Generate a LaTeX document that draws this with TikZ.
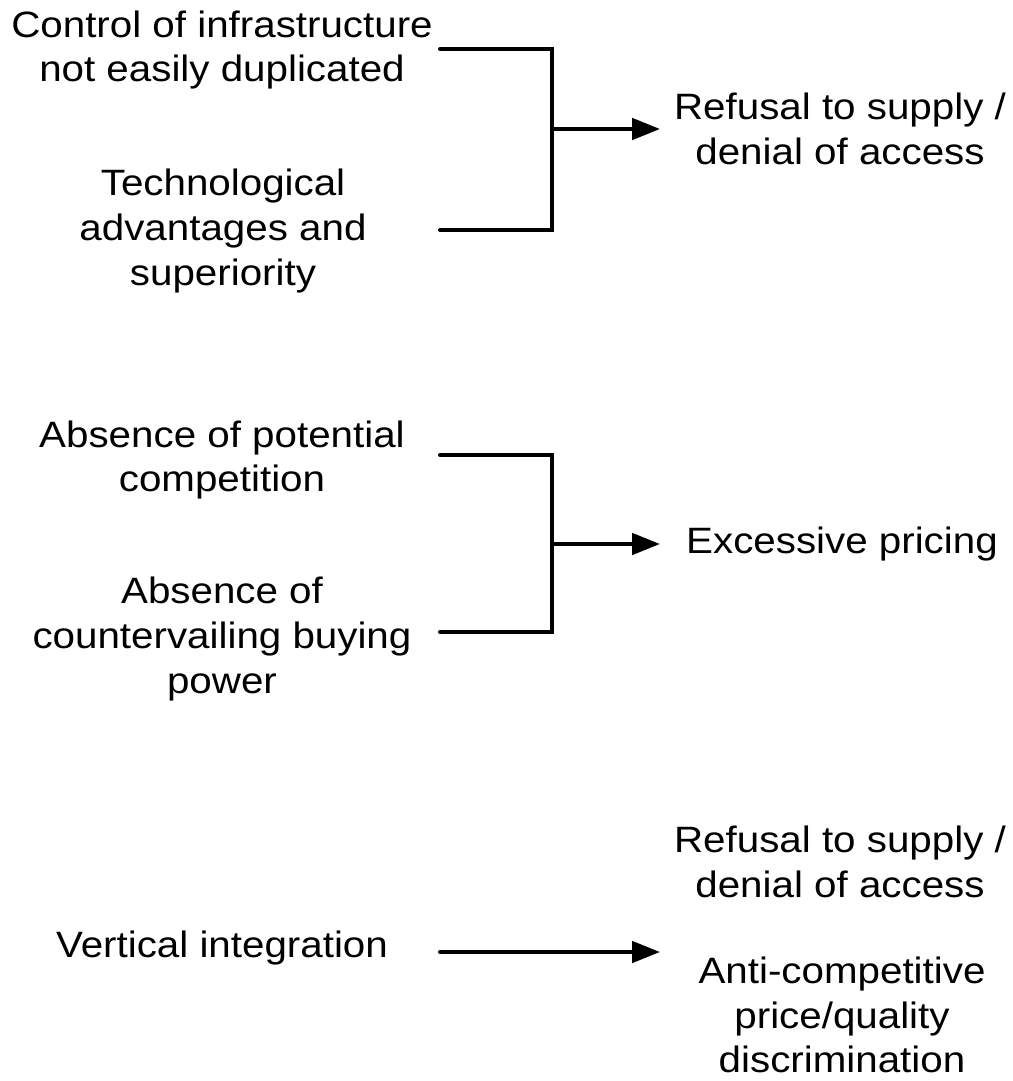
\documentclass[tikz,border=0pt]{standalone}
\usepackage{fontspec}
\setmainfont[FakeStretch=1.1]{Liberation Sans}
\usetikzlibrary{arrows.meta}
\begin{document}
\begin{tikzpicture}[x=0.75pt,y=-0.75pt,
  txt/.style={align=center,inner sep=0pt,font=\fontsize{27.5}{33.5}\selectfont},
  ln/.style={line width=3pt,line cap=round},
  arr/.style={line width=3pt,line cap=round,-{Triangle[length=21pt,width=16pt]}}]
\useasboundingbox (0,0) rectangle (1013,1081);
% group 1
\node[txt] (c1) at (222,50) {Control of infrastructure\\not easily duplicated};
\node[txt] (t1) at (223,231) {Technological\\advantages and\\superiority};
\node[txt] (r1) at (840,129) {Refusal to supply /\\denial of access};
\coordinate (a1) at (440,49);
\coordinate (b1) at (552,49);
\coordinate (a2) at (440,230);
\coordinate (b2) at (552,230);
\coordinate (m1) at (552,129);
\coordinate (e1) at (660,129);
\draw[ln] (a1) -- (b1) -- (b2) -- (a2);
\draw[arr] (m1) -- (e1);
% group 2
\node[txt] (p1) at (222,460) {Absence of potential\\competition};
\node[txt] (p2) at (222,639) {Absence of\\countervailing buying\\power};
\node[txt] (x1) at (842,544) {Excessive pricing};
\coordinate (a3) at (440,455);
\coordinate (b3) at (552,455);
\coordinate (a4) at (440,632);
\coordinate (b4) at (552,632);
\coordinate (m2) at (552,544);
\coordinate (e2) at (660,544);
\draw[ln] (a3) -- (b3) -- (b4) -- (a4);
\draw[arr] (m2) -- (e2);
% group 3
\node[txt] (v1) at (222,948) {Vertical integration};
\node[txt] (r2) at (840,862) {Refusal to supply /\\denial of access};
\node[txt] (ac) at (842,1015) {Anti-competitive\\price/quality\\discrimination};
\coordinate (a5) at (440,952);
\coordinate (e5) at (660,952);
\draw[arr] (a5) -- (e5);
\end{tikzpicture}
\end{document}
